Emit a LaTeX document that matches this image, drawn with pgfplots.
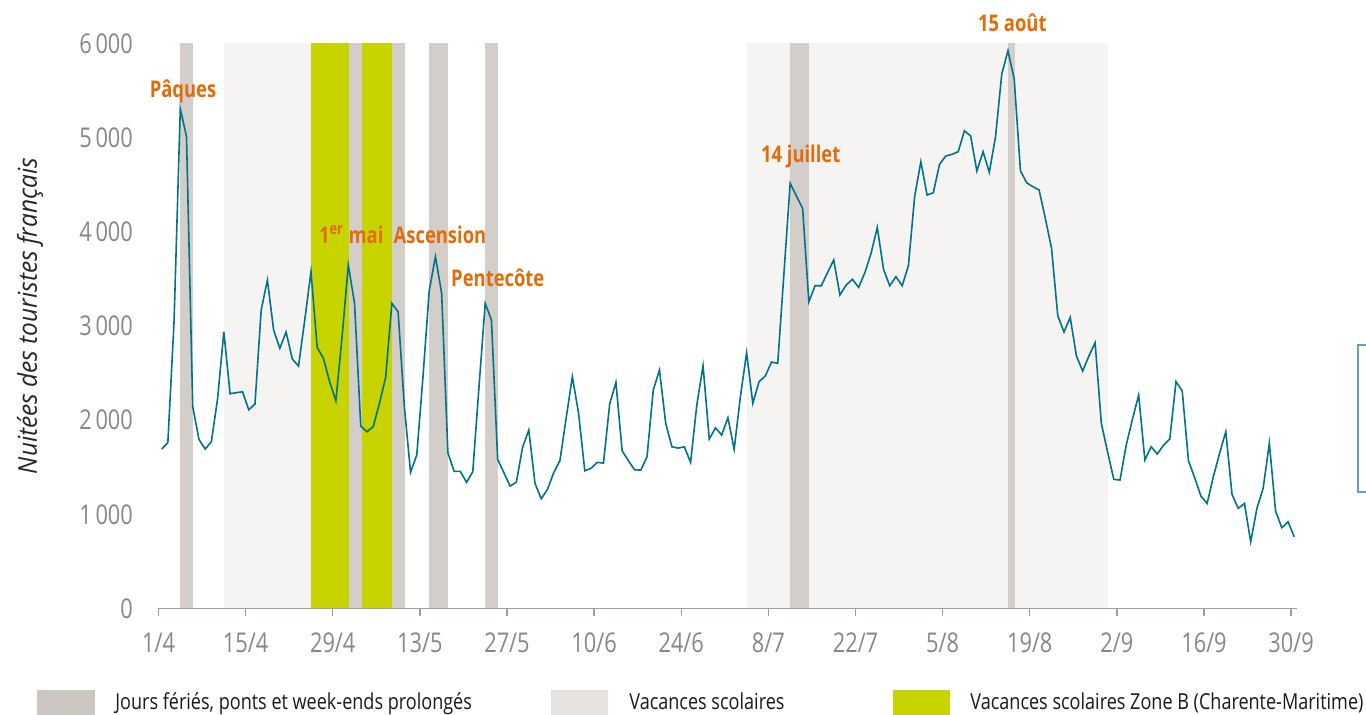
\documentclass[border=0pt]{standalone}
\usepackage{fontspec}
\setmainfont{Open Sans}
\usepackage{graphicx}
\usepackage{pgfplots}
\usepackage{pgfplotstable}
\pgfplotsset{compat=1.18}
\definecolor{courbe}{RGB}{0,115,138}
\definecolor{ferie}{RGB}{211,206,202}
\definecolor{ferieleg}{RGB}{205,199,194}
\definecolor{vacances}{RGB}{245,244,242}
\definecolor{vacancesleg}{RGB}{229,226,223}
\definecolor{zoneb}{RGB}{200,212,0}
\definecolor{axe}{RGB}{168,155,148}
\definecolor{gristxt}{RGB}{135,135,135}
\definecolor{orangelab}{RGB}{227,108,9}
\definecolor{cadre}{RGB}{95,165,185}
\newcommand\cnd[1]{\scalebox{0.8}[1]{#1}}
\newcommand\cndl[1]{\scalebox{0.82}[1]{#1}}

% nuitees par jour, du 1/4 au 30/9
\pgfplotstableread{
v
1694
1761
3050
5312
5015
2144
1797
1694
1772
2233
2941
2282
2293
2303
2112
2172
3172
3491
2959
2765
2938
2651
2576
3065
3579
2775
2658
2410
2207
2888
3650
3243
1938
1878
1931
2180
2456
3243
3154
2150
1446
1630
2463
3377
3739
3349
1655
1457
1457
1340
1453
2357
3243
3065
1584
1442
1300
1340
1712
1896
1329
1165
1265
1442
1570
2020
2463
2073
1463
1489
1552
1545
2172
2403
1676
1570
1474
1470
1612
2321
2534
1967
1718
1704
1718
1552
2162
2580
1800
1920
1843
2027
1691
2250
2718
2180
2410
2470
2619
2605
3560
4519
4384
4253
3260
3430
3430
3569
3704
3331
3438
3498
3413
3569
3775
4051
3605
3430
3526
3430
3643
4377
4749
4395
4419
4721
4809
4827
4855
5078
5022
4650
4855
4636
5015
5681
5929
5628
4653
4525
4483
4448
4147
3828
3111
2938
3094
2683
2523
2683
2824
1967
1665
1372
1364
1736
2010
2268
1577
1718
1641
1736
1800
2410
2311
1570
1389
1194
1116
1400
1648
1878
1212
1063
1116
708
1063
1276
1754
1035
857
921
761
}\nuitees

\begin{document}
\begin{tikzpicture}
\begin{axis}[
  scale only axis, width=569.25pt, height=282.8pt,
  xmin=0, xmax=183, ymin=0, ymax=6015,
  axis lines*=left, axis on top, clip=false,
  y axis line style={draw=none},
  x axis line style={draw=axe, line width=0.7pt},
  xtick={0,14,...,182},
  xticklabels={\cnd{1/4},\cnd{15/4},\cnd{29/4},\cnd{13/5},\cnd{27/5},\cnd{10/6},\cnd{24/6},
    \cnd{8/7},\cnd{22/7},\cnd{5/8},\cnd{19/8},\cnd{2/9},\cnd{16/9},\cnd{30/9}},
  ytick={0,1000,...,6000},
  yticklabel={\cnd{\pgfmathprintnumber{\tick}}},
  /pgf/number format/.cd, 1000 sep={\,}, assume math mode=true, /pgfplots/.cd,
  tick align=outside, major tick length=4pt,
  x tick style={draw=axe, line width=0.7pt},
  y tick style={draw=none},
  ticklabel style={font=\fontsize{13.6}{14}\selectfont, text=gristxt},
  xticklabel style={anchor=base, inner sep=0pt, yshift=-18.3pt},
  yticklabel style={anchor=east, inner sep=0pt, xshift=-8.6pt},
]
% vacances scolaires
\addplot[draw=none, fill=vacances] coordinates {(10.5,0)(10.5,6015)(39.6,6015)(39.6,0)};
\addplot[draw=none, fill=vacances] coordinates {(94.5,0)(94.5,6015)(152.6,6015)(152.6,0)};
% jours feries, ponts
\addplot[draw=none, fill=ferie] coordinates {(3.45,0)(3.45,6015)(5.5,6015)(5.5,0)};
\addplot[draw=none, fill=ferie] coordinates {(30.6,0)(30.6,6015)(32.7,6015)(32.7,0)};
\addplot[draw=none, fill=ferie] coordinates {(37.5,0)(37.5,6015)(39.6,6015)(39.6,0)};
\addplot[draw=none, fill=ferie] coordinates {(43.5,0)(43.5,6015)(46.5,6015)(46.5,0)};
\addplot[draw=none, fill=ferie] coordinates {(52.5,0)(52.5,6015)(54.5,6015)(54.5,0)};
\addplot[draw=none, fill=ferie] coordinates {(101.5,0)(101.5,6015)(104.5,6015)(104.5,0)};
\addplot[draw=none, fill=ferie] coordinates {(136.5,0)(136.5,6015)(137.6,6015)(137.6,0)};
% zone B
\addplot[draw=none, fill=zoneb] coordinates {(24.5,0)(24.5,6015)(30.6,6015)(30.6,0)};
\addplot[draw=none, fill=zoneb] coordinates {(32.7,0)(32.7,6015)(37.5,6015)(37.5,0)};

\addplot[courbe, line width=0.8pt] table[x expr=\coordindex+0.5, y=v] {\nuitees};

\tikzset{evt/.style={text=orangelab, font=\fontsize{11.5}{12}\selectfont\bfseries, anchor=base, inner sep=0pt}}
\node[evt] at (axis cs:3.94,5430) {\cnd{Pâques}};
\node[evt] at (axis cs:30.98,3881) {\cnd{1\textsuperscript{er} mai}};
\node[evt] at (axis cs:45.23,3881) {\cnd{Ascension}};
\node[evt] at (axis cs:54.52,3427) {\cnd{Pentecôte}};
\node[evt] at (axis cs:103.2,4742) {\cnd{14 juillet}};
\node[evt] at (axis cs:137.2,6131) {\cnd{15 août}};

\node[rotate=90, font=\fontsize{13}{14}\selectfont\itshape, text=black!85] at (axis cs:-20.65,3108)
  {\scalebox{0.94}[1]{Nuitées des touristes français}};

% legende
\tikzset{leg/.style={anchor=base west, inner sep=0pt, font=\fontsize{11}{12}\selectfont, text=black!90}}
\fill[ferieleg] (axis cs:-19.52,-868.7) rectangle (axis cs:-10.2,-1300);
\node[leg] at (axis cs:-7.0,-1071) {\cndl{Jours fériés, ponts et week-ends prolongés}};
\fill[vacancesleg] (axis cs:63.07,-868.7) rectangle (axis cs:72.23,-1300);
\node[leg] at (axis cs:75.6,-1071) {\cndl{Vacances scolaires}};
\fill[zoneb] (axis cs:118.0,-868.7) rectangle (axis cs:127.2,-1300);
\node[leg] at (axis cs:130.4,-1071) {\cndl{Vacances scolaires Zone B (Charente-Maritime)}};

\draw[cadre, line width=0.6pt] (axis cs:192.75,1237) rectangle (axis cs:200,2800);

\coordinate (bbsw) at (axis cs:-25.47,-1124);
\coordinate (bbne) at (axis cs:194.03,6468);
\end{axis}
\pgfresetboundingbox
\path[use as bounding box] (bbsw) rectangle (bbne);
\end{tikzpicture}
\end{document}
